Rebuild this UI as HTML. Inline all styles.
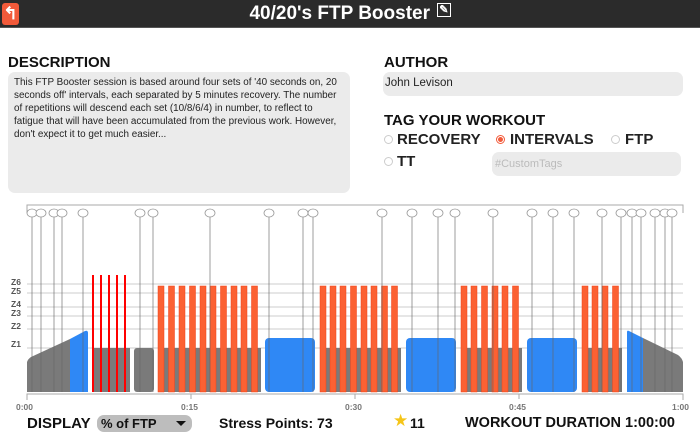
<!DOCTYPE html>
<html><head><meta charset="utf-8"><style>
*{margin:0;padding:0;box-sizing:border-box}
body{width:700px;height:434px;background:#fff;font-family:"Liberation Sans",sans-serif;position:relative;overflow:hidden}
.a{position:absolute}
.h{font-weight:bold;font-size:15px;color:#111}
.box{background:#ebebeb;border-radius:7px}
.r{font-weight:bold;font-size:15px;color:#222}
.rad{display:inline-block;width:9px;height:9px;border:1px solid #ccc;border-radius:50%;position:absolute}
</style></head><body>
<div class="a" style="left:0;top:0;width:700px;height:28px;background:#2b2b2b;border-bottom:1px solid #555"></div>
<div class="a" style="left:2px;top:3px;width:17px;height:22px;background:#f25a3a;border-radius:3px;color:#fff;font-weight:bold;font-size:17px;text-align:center;line-height:22px">↰</div>
<div class="a" style="left:0;top:3px;width:700px;text-align:center;color:#fff;font-weight:bold;font-size:19px">40/20's FTP Booster <span style="font-size:11px;vertical-align:top;border:1px solid #fff;padding:0 1px;margin-left:2px">✎</span></div>

<div class="a h" style="left:8px;top:54px">DESCRIPTION</div>
<div class="a box" style="left:8px;top:72px;width:342px;height:121px;padding:4px 6px;font-size:9.9px;line-height:13px;color:#222">This FTP Booster session is based around four sets of '40 seconds on, 20 seconds off' intervals, each separated by 5 minutes recovery. The number of repetitions will descend each set (10/8/6/4) in number, to reflect to fatigue that will have been accumulated from the previous work. However, don't expect it to get much easier...</div>

<div class="a h" style="left:384px;top:54px">AUTHOR</div>
<div class="a box" style="left:383px;top:72px;width:300px;height:24px;padding:5px 2px;font-size:11.5px;color:#222">John Levison</div>
<div class="a h" style="left:384px;top:112px">TAG YOUR WORKOUT</div>
<span class="rad" style="left:384px;top:135px"></span><div class="a r" style="left:397px;top:131px">RECOVERY</div>
<span class="rad" style="left:496px;top:135px;border-color:#f25a3a;background:radial-gradient(#f25a3a 45%,#fff 55%)"></span><div class="a r" style="left:510px;top:131px">INTERVALS</div>
<span class="rad" style="left:611px;top:135px"></span><div class="a r" style="left:625px;top:131px">FTP</div>
<span class="rad" style="left:384px;top:157px"></span><div class="a r" style="left:397px;top:153px">TT</div>
<div class="a box" style="left:492px;top:152px;width:189px;height:24px;padding:6px 3px;font-size:11px;color:#bbb">#CustomTags</div>

<svg class="a" style="left:0;top:0" width="700" height="434">
<g font-family="Liberation Sans" font-weight="bold" font-size="8.5" fill="#555">
<text x="11" y="285">Z6</text><text x="11" y="294">Z5</text><text x="11" y="307">Z4</text><text x="11" y="316">Z3</text><text x="11" y="329">Z2</text><text x="11" y="347">Z1</text>
</g>
<g stroke="#ccc" stroke-width="1">
<line x1="27" x2="683" y1="284" y2="284"/><line x1="27" x2="683" y1="293" y2="293"/><line x1="27" x2="683" y1="307" y2="307"/><line x1="27" x2="683" y1="316" y2="316"/><line x1="27" x2="683" y1="329" y2="329"/><line x1="27" x2="683" y1="348" y2="348"/>
</g>
<polyline points="27,213 27,205 683,205 683,213" fill="none" stroke="#aaa"/>
<g fill="#7a7a7a">
<path d="M27,392 L27,362 Q28,359 31,357 L70,339 L70,392Z"/>
<rect x="92" y="348" width="38" height="44"/>
<rect x="134" y="348" width="20" height="44" rx="3"/>
<rect x="158" y="348" width="103" height="44"/>
<rect x="320" y="348" width="81" height="44"/>
<rect x="461" y="348" width="61" height="44"/>
<rect x="582" y="348" width="40" height="44"/>
<path d="M643,338 L678,355 Q682,358 683,362 L683,392 L643,392Z"/>
</g>
<g fill="#2f88f5">
<path d="M70,392 L70,339 L85,331 Q88,330 88,333 L88,392Z"/>
<rect x="265" y="338" width="50" height="54" rx="4"/>
<rect x="406" y="338" width="50" height="54" rx="4"/>
<rect x="527" y="338" width="50" height="54" rx="4"/>
<path d="M627,392 L627,332 Q627,330 629,331 L643,338 L643,392Z"/>
</g>
<g fill="#f00">
<rect x="92" y="275" width="2" height="117"/><rect x="100" y="275" width="2" height="117"/><rect x="108" y="275" width="2" height="117"/><rect x="116" y="275" width="2" height="117"/><rect x="124" y="275" width="2" height="117"/>
</g>
<g fill="#fb6133" stroke="#f0421a" stroke-width="0.5">
<rect x="158" y="286" width="6" height="106"/><rect x="168.5" y="286" width="6" height="106"/><rect x="179" y="286" width="6" height="106"/><rect x="189.5" y="286" width="6" height="106"/><rect x="200" y="286" width="6" height="106"/><rect x="210" y="286" width="6" height="106"/><rect x="220.5" y="286" width="6" height="106"/><rect x="231" y="286" width="6" height="106"/><rect x="241" y="286" width="6" height="106"/><rect x="251.5" y="286" width="6" height="106"/>
<rect x="320" y="286" width="6" height="106"/><rect x="330" y="286" width="6" height="106"/><rect x="340" y="286" width="6" height="106"/><rect x="350.5" y="286" width="6" height="106"/><rect x="361" y="286" width="6" height="106"/><rect x="371" y="286" width="6" height="106"/><rect x="381.5" y="286" width="6" height="106"/><rect x="391.5" y="286" width="6" height="106"/>
<rect x="461" y="286" width="6" height="106"/><rect x="471" y="286" width="6" height="106"/><rect x="481.5" y="286" width="6" height="106"/><rect x="492" y="286" width="6" height="106"/><rect x="502" y="286" width="6" height="106"/><rect x="512.5" y="286" width="6" height="106"/>
<rect x="582" y="286" width="6" height="106"/><rect x="592" y="286" width="6" height="106"/><rect x="602" y="286" width="6" height="106"/><rect x="612.5" y="286" width="6" height="106"/>
</g>
<g stroke-width="0.8" fill="none">
<path stroke="#666" stroke-opacity="0.8" d="M32,217V392M41,217V392M54,217V392M62,217V392M83,217V392M140,217V392M153,217V392M210,217V392M269,217V392M303,217V392M313,217V392M382,217V392M412,217V392M438,217V392M455,217V392M493,217V392M532,217V392M553,217V392M574,217V392M602,217V392M621,217V392M632,217V392M641,217V392M655,217V392M665,217V392M672,217V392"/>
</g>
<g fill="#fff" stroke="#999" stroke-width="0.8">
<ellipse cx="32" cy="213" rx="5" ry="4"/><ellipse cx="41" cy="213" rx="5" ry="4"/><ellipse cx="54" cy="213" rx="5" ry="4"/><ellipse cx="62" cy="213" rx="5" ry="4"/><ellipse cx="83" cy="213" rx="5" ry="4"/><ellipse cx="140" cy="213" rx="5" ry="4"/><ellipse cx="153" cy="213" rx="5" ry="4"/><ellipse cx="210" cy="213" rx="5" ry="4"/><ellipse cx="269" cy="213" rx="5" ry="4"/><ellipse cx="303" cy="213" rx="5" ry="4"/><ellipse cx="313" cy="213" rx="5" ry="4"/><ellipse cx="382" cy="213" rx="5" ry="4"/><ellipse cx="412" cy="213" rx="5" ry="4"/><ellipse cx="438" cy="213" rx="5" ry="4"/><ellipse cx="455" cy="213" rx="5" ry="4"/><ellipse cx="493" cy="213" rx="5" ry="4"/><ellipse cx="532" cy="213" rx="5" ry="4"/><ellipse cx="553" cy="213" rx="5" ry="4"/><ellipse cx="574" cy="213" rx="5" ry="4"/><ellipse cx="602" cy="213" rx="5" ry="4"/><ellipse cx="621" cy="213" rx="5" ry="4"/><ellipse cx="632" cy="213" rx="5" ry="4"/><ellipse cx="641" cy="213" rx="5" ry="4"/><ellipse cx="655" cy="213" rx="5" ry="4"/><ellipse cx="665" cy="213" rx="5" ry="4"/><ellipse cx="672" cy="213" rx="5" ry="4"/>
</g>
<path d="M27,400V394H683V400M191,394V399M355,394V399M519,394V399" stroke="#aaa" fill="none"/>
<g font-family="Liberation Sans" font-weight="bold" font-size="8.5" fill="#777">
<text x="16" y="410">0:00</text><text x="181" y="410">0:15</text><text x="345" y="410">0:30</text><text x="509" y="410">0:45</text><text x="672" y="410">1:00</text>
</g>
</svg>

<div class="a h" style="left:27px;top:415px">DISPLAY</div>
<div class="a" style="left:97px;top:415px;width:95px;height:17px;background:#bdbdbd;border-radius:7px;font-weight:bold;font-size:13px;padding:1px 4px;color:#111">% of FTP<span style="position:absolute;right:6px;top:6px;border:5px solid transparent;border-top:5px solid #111"></span></div>
<div class="a h" style="left:219px;top:415px;font-size:14px">Stress Points: 73</div>
<div class="a" style="left:393px;top:411px;font-size:17px;color:#f5c518">★</div>
<div class="a h" style="left:410px;top:415px;font-size:14px">11</div>
<div class="a h" style="left:465px;top:415px;font-size:14.5px">WORKOUT DURATION 1:00:00</div>
</body></html>
